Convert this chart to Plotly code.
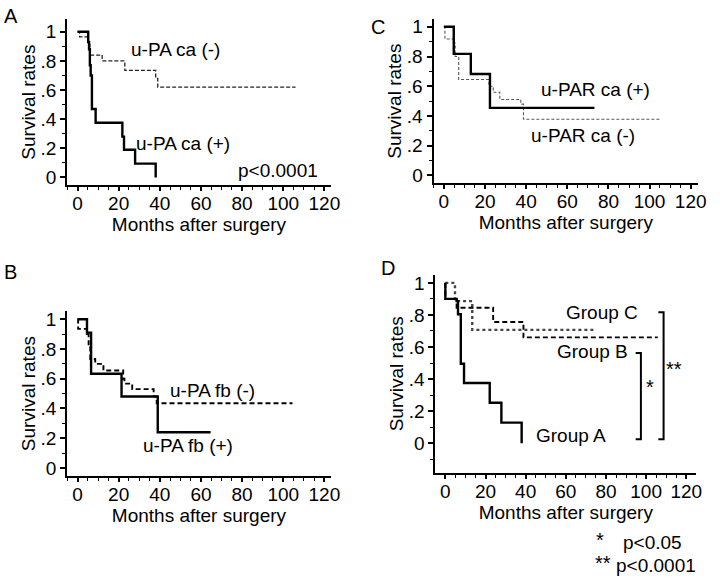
import plotly.graph_objects as go

# ---- data ----
# Panel A: u-PA in cancer cells
a_neg_t = [0, 1, 5, 6, 12, 23, 38, 39, 106]
a_neg_s = [1, 0.965, 0.93, 0.84, 0.80, 0.735, 0.68, 0.62, 0.62]
a_pos_t = [0, 5.2, 5.6, 6.0, 6.4, 7.0, 8.8, 21.8, 22.6, 28.0, 38.0]
a_pos_s = [1, 0.93, 0.88, 0.77, 0.70, 0.47, 0.375, 0.28, 0.19, 0.095, 0.0]

# Panel B: u-PA in fibroblasts
b_neg_t = [0, 0.3, 4.5, 5.4, 6.2, 8.6, 12.6, 22.2, 22.8, 26.6, 37.0, 38.5, 104.5]
b_neg_s = [1, 0.935, 0.9, 0.82, 0.733, 0.70, 0.655, 0.60, 0.567, 0.53, 0.48, 0.435, 0.435]
b_pos_t = [0, 4.6, 6.6, 21.4, 39.0, 64.7]
b_pos_s = [1, 0.91, 0.633, 0.48, 0.24, 0.24]

# Panel C: u-PAR in cancer cells
c_pos_t = [0, 4.8, 13.1, 22.4, 73.2]
c_pos_s = [1, 0.818, 0.682, 0.455, 0.455]
c_neg_t = [0, 0.5, 4.7, 5.5, 7.2, 21.9, 24.0, 27.2, 37.4, 38.7, 105.1]
c_neg_s = [1, 0.918, 0.89, 0.80, 0.645, 0.60, 0.56, 0.511, 0.48, 0.378, 0.378]

# Panel D: groups
d_a_t = [0, 0, 5.6, 6.3, 7.7, 9.3, 22.1, 27.9, 38.0]
d_a_s = [1, 0.9, 0.886, 0.804, 0.495, 0.375, 0.252, 0.128, 0.0]
d_b_t = [0, 0, 5.6, 23.8, 38.9, 105.8]
d_b_s = [1, 0.9, 0.845, 0.756, 0.66, 0.66]
d_c_t = [0, 4.8, 13.4, 74.1]
d_c_s = [1, 0.886, 0.707, 0.707]

x_ticks = [0, 20, 40, 60, 80, 100, 120]
y_ticks = [0, 0.2, 0.4, 0.6, 0.8, 1]
y_tick_text = ["0", ".2", ".4", ".6", ".8", "1"]

W, H = 720, 581
FONT = "Liberation Sans, Arial, Helvetica, sans-serif"


def px_x(p):
    return p / W


def px_y(p):
    return 1 - p / H


def axes(left, right, x0, xs, top, bottom, y0, y1):
    # pixel box of the axes -> domain and range
    yu = y0 - y1
    xd = [px_x(left), px_x(right)]
    xr = [(left - x0) / xs, (right - x0) / xs]
    yd = [px_y(bottom), px_y(top)]
    yr = [(y0 - bottom) / yu, (y0 - top) / yu]
    return xd, xr, yd, yr


boxes = {
    1: axes(68, 335, 78.5, 2.083, 17, 185, 177, 30),    # A
    2: axes(68, 335, 78.5, 2.083, 312, 478, 470, 320),  # B
    3: axes(439, 707, 449.5, 2.083, 17, 183, 175, 25),  # C
    4: axes(441, 705, 451, 2.033, 275, 475, 445, 283.3),  # D
}

fig = go.Figure()

solid = dict(color="black", width=2.4)
dash_thin = dict(color="#222", width=1.3, dash="4px,2px")
dash_grey = dict(color="#555", width=1.1, dash="3px,2px")
dash_thick = dict(color="black", width=1.9, dash="5px,3px")
dotted = dict(color="#444", width=2.4, dash="dot")

series = [
    (a_neg_t, a_neg_s, dash_thin, 1),
    (a_pos_t, a_pos_s, solid, 1),
    (b_neg_t, b_neg_s, dash_thick, 2),
    (b_pos_t, b_pos_s, solid, 2),
    (c_neg_t, c_neg_s, dash_grey, 3),
    (c_pos_t, c_pos_s, solid, 3),
    (d_c_t, d_c_s, dotted, 4),
    (d_b_t, d_b_s, dash_thick, 4),
    (d_a_t, d_a_s, solid, 4),
]
for t, s, ln, k in series:
    fig.add_trace(go.Scatter(
        x=t, y=s, mode="lines", line=dict(shape="hv", **ln),
        xaxis="x" if k == 1 else f"x{k}", yaxis="y" if k == 1 else f"y{k}",
        showlegend=False, hoverinfo="skip"))

layout = dict(
    width=W, height=H, margin=dict(l=0, r=0, t=0, b=0),
    paper_bgcolor="white", plot_bgcolor="white",
    font=dict(family=FONT, size=19, color="black"),
    showlegend=False,
)
for k, (xd, xr, yd, yr) in boxes.items():
    sx = "" if k == 1 else str(k)
    layout[f"xaxis{sx}"] = dict(
        domain=xd, range=xr, anchor=f"y{sx}",
        showline=True, linecolor="black", linewidth=2,
        showgrid=False, zeroline=False,
        tickmode="array", tickvals=x_ticks, ticks="outside",
        ticklen=4, tickwidth=1.5, tickcolor="black",
        tickfont=dict(size=19), ticklabelstandoff=-4,
        minor=dict(dtick=5, tick0=0, ticks="outside", ticklen=3, tickwidth=1.2, tickcolor="black"),
        title=dict(text="Months after surgery", standoff=0, font=dict(size=19)),
    )
    layout[f"yaxis{sx}"] = dict(
        domain=yd, range=yr, anchor=f"x{sx}",
        showline=True, linecolor="black", linewidth=2,
        showgrid=False, zeroline=False,
        tickmode="array", tickvals=y_ticks, ticktext=y_tick_text, ticks="outside",
        ticklen=5, tickwidth=1.5, tickcolor="black",
        tickfont=dict(size=19),
        minor=dict(dtick=0.1, tick0=0, ticks="outside", ticklen=3, tickwidth=1.2, tickcolor="black"),
        title=dict(text="Survival rates", standoff=0, font=dict(size=19)),
    )
fig.update_layout(**layout)


def note(text, x, y, anchor="center", size=19):
    fig.add_annotation(text=text, x=px_x(x), y=px_y(y), xref="paper", yref="paper",
                       xanchor=anchor, yanchor="middle", showarrow=False,
                       font=dict(size=size))


# panel letters
note("A", 11, 14, size=20)
note("B", 11, 272, size=20)
note("C", 383, 25, size=20)
note("D", 393, 268, size=20)

# curve labels
note("u-PA ca (-)", 178, 48)
note("u-PA ca (+)", 185, 143)
note("p<0.0001", 282, 170)
note("u-PA fb (-)", 215, 392)
note("u-PA fb (+)", 190, 447)
note("u-PAR ca (+)", 603, 88)
note("u-PAR ca (-)", 590, 135)
note("Group C", 610, 313)
note("Group B", 600, 353)
note("Group A", 578, 437)

# significance brackets in D
for xb, ytop in [(97.4, 0.563), (108.7, 0.816)]:
    fig.add_shape(type="path", xref="x4", yref="y4",
                  path=f"M {xb-2.6},{ytop} L {xb},{ytop} L {xb},0.025 L {xb-2.6},0.025",
                  line=dict(color="black", width=2))
fig.add_annotation(text="*", x=101.8, y=0.35, xref="x4", yref="y4", showarrow=False,
                   font=dict(size=20))
fig.add_annotation(text="**", x=114.0, y=0.46, xref="x4", yref="y4", showarrow=False,
                   font=dict(size=20))

# footnote
note("*", 608, 543, size=20)
note("p<0.05", 629, 545, anchor="left")
note("**", 611, 566, size=20)
note("p<0.0001", 622, 568, anchor="left")

# drop the browser's default 8px body margin so the figure fills the window
fig.write_html("out.html", config={"displayModeBar": False},
               post_script="document.body.style.margin='0';")
